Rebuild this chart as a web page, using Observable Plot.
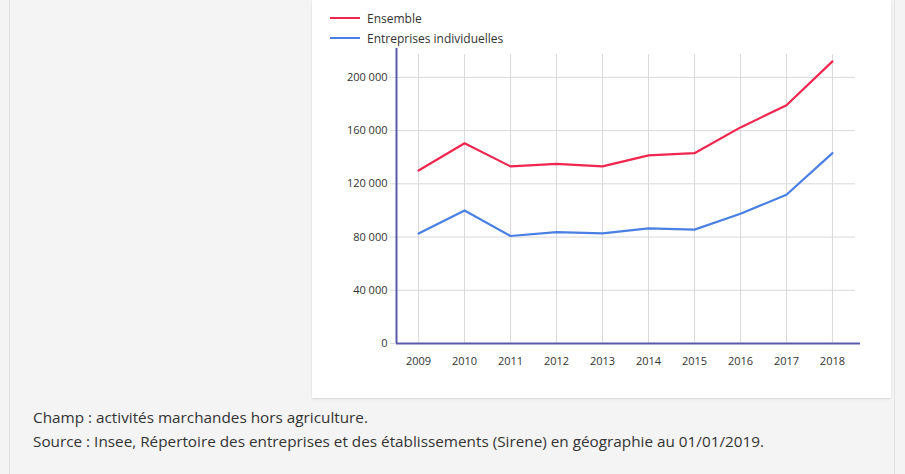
<!DOCTYPE html>
<html>
<head>
<meta charset="utf-8">
<script src="https://cdn.jsdelivr.net/npm/d3@7"></script>
<script src="https://cdn.jsdelivr.net/npm/@observablehq/plot@0.6"></script>
<style>
  html, body { margin: 0; padding: 0; }
  body { width: 905px; height: 474px; background: #f4f4f4; position: relative; overflow: hidden; font-family: "Open Sans", sans-serif; }
  #frame { position: absolute; left: 9px; top: 0; width: 884px; height: 474px; border-left: 1px solid #e2e2e2; border-right: 1px solid #e2e2e2; }
  #panel { position: absolute; left: 312px; top: 0; width: 579px; height: 398px; background: #fff; box-shadow: 0 1px 2px rgba(0,0,0,0.12); }
  #legend { position: absolute; left: 18px; top: 8px; font-size: 12px; color: #333; }
  .li { display: flex; align-items: center; height: 20px; }
  .sw { width: 30px; height: 2px; margin-right: 7px; }
  #chart { position: absolute; left: 0; top: 44px; }
  #notes { position: absolute; left: 33px; top: 405px; font-size: 15.3px; color: #333; line-height: 24px; }
</style>
</head>
<body>
<div id="frame"></div>
<div id="panel">
  <div id="legend"></div>
  <div id="chart"></div>
</div>
<div id="notes">
  <div>Champ : activités marchandes hors agriculture.</div>
  <div>Source : Insee, Répertoire des entreprises et des établissements (Sirene) en géographie au 01/01/2019.</div>
</div>
<script>
const years = [2009, 2010, 2011, 2012, 2013, 2014, 2015, 2016, 2017, 2018];
const ensemble = [130000, 150500, 133100, 135000, 133100, 141400, 143000, 162400, 179000, 212000];
const individuelles = [82600, 100000, 80800, 83700, 82800, 86500, 85600, 97500, 111800, 143100];
const seriesNames = ["Ensemble", "Entreprises individuelles"];
const seriesColors = ["#f0264e", "#4a80e3"];
const yTicks = [0, 40000, 80000, 120000, 160000, 200000];

const data = [];
years.forEach((y, i) => {
  data.push({year: y, value: ensemble[i], serie: seriesNames[0]});
  data.push({year: y, value: individuelles[i], serie: seriesNames[1]});
});

const fmt = d3.formatLocale({thousands: "\u00a0", grouping: [3], decimal: ","}).format(",");

const legend = document.getElementById("legend");
seriesNames.forEach((n, i) => {
  const row = document.createElement("div");
  row.className = "li";
  row.innerHTML = `<div class="sw" style="background:${seriesColors[i]}"></div><span>${n}</span>`;
  legend.appendChild(row);
});

const xDomain = [2008.52, 2018.61];
const yDomain = [0, 221700];

const plot = Plot.plot({
  width: 579,
  height: 330,
  marginLeft: 84,
  marginRight: 31,
  marginTop: 4,
  marginBottom: 31,
  style: {fontFamily: "Open Sans, sans-serif", fontSize: "11px", color: "#333", background: "transparent"},
  x: {domain: xDomain, label: null},
  y: {domain: yDomain, label: null},
  color: {domain: seriesNames, range: seriesColors},
  marks: [
    Plot.gridX(years, {stroke: "#d9d9d9", strokeOpacity: 1, y1: 0, y2: 217000}),
    Plot.gridY(yTicks, {stroke: "#d9d9d9", strokeOpacity: 1, x1: xDomain[0], x2: 2018.5}),
    Plot.axisY(yTicks, {tickSize: 6, stroke: "#d9d9d9", tickFormat: fmt, tickPadding: 3, fill: "#333", label: null}),
    Plot.axisX(years, {tickSize: 0, tickFormat: d => String(d), tickPadding: 14, fill: "#333", label: null}),
    Plot.line(data, {x: "year", y: "value", stroke: "serie", strokeWidth: 2.2}),
    Plot.ruleX([xDomain[0]], {stroke: "#5a5aab", strokeWidth: 2}),
    Plot.ruleY([0], {stroke: "#5a5aab", strokeWidth: 2})
  ]
});
document.getElementById("chart").appendChild(plot);
</script>
</body>
</html>
